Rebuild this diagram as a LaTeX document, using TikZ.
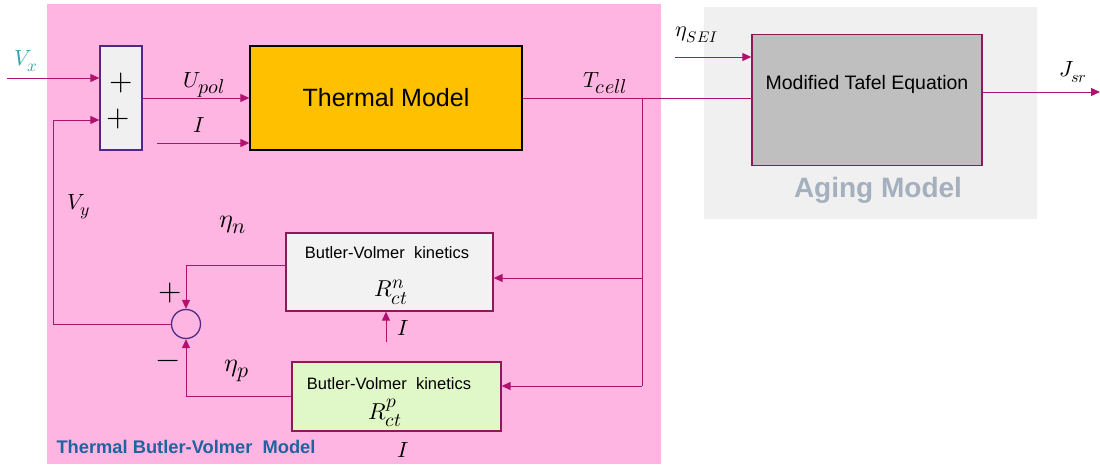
\documentclass[tikz,border=0pt]{standalone}
\usepackage{amsmath}
\usepackage{fontspec}
\usepackage{unicode-math}
\setmainfont{Liberation Sans}
\setmathfont{Latin Modern Math}
\usetikzlibrary{arrows.meta, positioning}

% larger sub- and superscripts, as in the reference
\newcommand{\lsub}[2][1.3]{\scalebox{#1}{$\scriptstyle #2$}}

\definecolor{panelpink}{HTML}{FFB5E2}
\definecolor{panelgray}{HTML}{F0F0F0}
\definecolor{wirecol}{HTML}{B0136E}
\definecolor{boxedge}{HTML}{8B1A5A}
\definecolor{sumedge}{HTML}{4E2A84}
\definecolor{thermfill}{HTML}{FFC000}
\definecolor{tafelfill}{HTML}{BFBFBF}
\definecolor{bvnfill}{HTML}{F2F2F2}
\definecolor{bvpfill}{HTML}{E0F8C8}
\definecolor{vxcol}{HTML}{2FA3AA}
\definecolor{tbvcol}{HTML}{1F64A0}
\definecolor{agingcol}{HTML}{A5B0BF}

\begin{document}
\begin{tikzpicture}[
        x=1pt, y=-1pt,
        wire/.style={draw=wirecol, line width=1pt},
        arrow/.style={wire, -{Triangle[length=9pt, width=8pt]}},
        box/.style={rectangle, draw=boxedge, line width=1.3pt, inner sep=0pt},
        mlabel/.style={inner sep=0pt, font=\fontsize{22}{26}\selectfont},
        etalabel/.style={inner sep=0pt, font=\fontsize{26}{28}\selectfont},
        rlabel/.style={inner sep=0pt, font=\fontsize{23}{26}\selectfont},
        sign/.style={inner sep=0pt, font=\fontsize{30}{32}\selectfont},
        bvtext/.style={inner sep=0pt, font=\fontsize{16.5}{18}\selectfont}
    ]
    \useasboundingbox (0,0) rectangle (1100,464);
    % panels
    \fill[panelpink] (47,4) rectangle (661,464);
    \fill[panelgray] (704,7) rectangle (1037,219);
    \node[anchor=west, font=\bfseries\fontsize{18.3}{20}\selectfont, text=tbvcol] (tbvlabel) at (53,447) {Thermal Butler-Volmer\ \ Model};
    \node[font=\bfseries\fontsize{28}{30}\selectfont, text=agingcol] (aginglabel) at (878,190) {Aging Model};

    % blocks
    \node[box, draw=sumedge, fill=panelgray, minimum width=42pt, minimum height=104pt] (sum) at (121,98) {};
    \node[sign] (plusa) at (121,83) {$+$};
    \node[sign] (plusb) at (118,119) {$+$};
    \node[box, draw=black, fill=thermfill, minimum width=272pt, minimum height=104pt, font=\fontsize{25}{28}\selectfont] (thermal) at (386,98) {Thermal Model};
    \node[box, fill=tafelfill, minimum width=230pt, minimum height=131pt] (tafel) at (867,100) {};
    \node[font=\fontsize{19.5}{22}\selectfont] (tafeltext) at ([yshift=-51pt]tafel.north) {Modified Tafel Equation};
    \node[box, fill=bvnfill, minimum width=207pt, minimum height=78pt] (bvn) at (389.5,272) {};
    \node[bvtext] (bvntext) at (387,253) {Butler-Volmer\ \ kinetics};
    \node[rlabel] (rctn) at (391,292) {$R^{\lsub[1.2]{n}}_{\lsub[1.2]{ct}}$};
    \node[box, fill=bvpfill, minimum width=209pt, minimum height=69pt] (bvp) at (396.5,396.5) {};
    \node[bvtext] (bvptext) at (389,384) {Butler-Volmer\ \ kinetics};
    \node[rlabel] (rctp) at (385,413) {$R^{\lsub[1.2]{p}}_{\lsub[1.2]{ct}}$};
    \node[circle, draw=sumedge, line width=1.3pt, minimum size=29pt, inner sep=0pt] (sumc) at (186,324) {};
    \node[sign] (plusc) at (170,293) {$+$};
    \node[sign] (minusc) at (168,364) {$-$};

    % labels
    \node[mlabel, text=vxcol] (vx) at (26,61) {$V_{\lsub[1.1]{x}}$};
    \node[mlabel] (vy) at (79,207) {$V_{\lsub[1.15]{y}}$};
    \node[mlabel] (upol) at (204,85) {$U_{\lsub{pol}}$};
    \node[mlabel] (itherm) at (199,125) {$I$};
    \node[etalabel] (etan) at (233,225) {$\eta_{\lsub[1.2]{n}}$};
    \node[etalabel] (etap) at (237,371) {$\eta_{\lsub[1.2]{p}}$};
    \node[mlabel] (ibvn) at (403,328) {$I$};
    \node[mlabel] (ibvp) at (403,450) {$I$};
    \node[mlabel] (tcell) at (605,83) {$T_{\lsub{cell}}$};
    \node[mlabel] (etasei) at (697,35) {$\eta_{\lsub[1]{SEI}}$};
    \node[mlabel] (jsr) at (1073,72) {$J_{\lsub[1.05]{sr}}$};

    % free ends and corners
    \coordinate (vxin) at (7,78);
    \coordinate (vyturn) at (53,120);
    \coordinate (iin) at (157,143);
    \coordinate (tbr) at (642,98);
    \coordinate (tmid) at (642,278);
    \coordinate (tbot) at (642,386);
    \coordinate (seiin) at (675,57);
    \coordinate (jsrout) at (1100,92);
    \coordinate (ibvnin) at (386,342);

    % connectors
    \draw[arrow] (vxin) -- (vxin -| sum.west);
    \draw[arrow] (sumc.west) -| (vyturn) -- (vyturn -| sum.west);
    \draw[arrow] (sum.east) -- (thermal.west);
    \draw[arrow] (iin) -- (iin -| thermal.west);
    \draw[wire] (thermal.east) -- (thermal.east -| tafel.west);
    \draw[wire] (tbr) -- (tbot);
    \draw[arrow] (tmid) -- (tmid -| bvn.east);
    \draw[arrow] (tbot) -- (tbot -| bvp.east);
    \draw[arrow] (seiin) -- (seiin -| tafel.west);
    \draw[arrow] (jsrout -| tafel.east) -- (jsrout);
    \draw[arrow] ([yshift=7pt]bvn.west) -| (sumc.north);
    \draw[arrow] (bvp.west) -| (sumc.south);
    \draw[arrow] (ibvnin) -- (ibvnin |- bvn.south);
\end{tikzpicture}
\end{document}
